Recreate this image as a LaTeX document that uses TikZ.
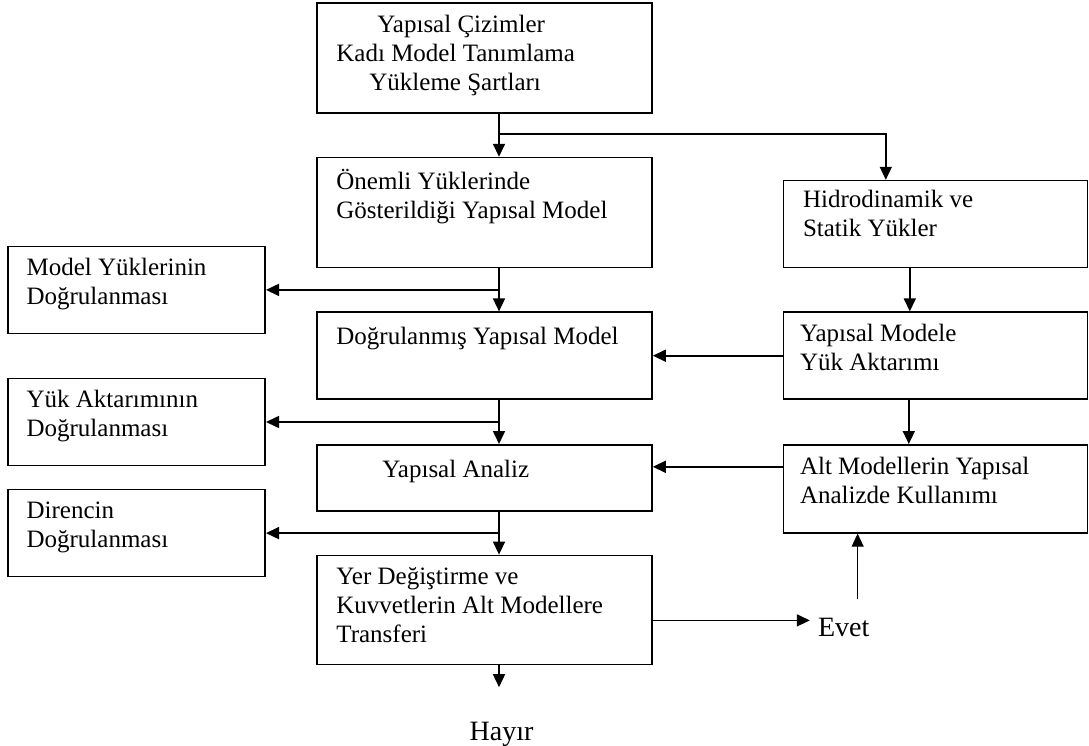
\documentclass[tikz,border=0pt]{standalone}
\usepackage{fontspec}
\setmainfont{Liberation Serif}
\usepackage{tikz}
\usetikzlibrary{positioning}
\usetikzlibrary{calc}
\usetikzlibrary{arrows.meta}

\tikzset{
  block/.style={draw, line width=1.6pt, minimum width=335pt},
  leftblock/.style={draw, line width=1.6pt, minimum width=257pt, minimum height=87pt},
  rightblock/.style={draw, line width=1.6pt, minimum width=304pt},
  boxtext/.style={anchor=north west, align=left, inner sep=0pt, xshift=20pt, yshift=-12.5pt,
    font=\fontsize{25}{29}\selectfont, execute at begin node=\strut},
  answer/.style={inner sep=0pt, font=\fontsize{28}{33}\selectfont},
  flow/.style={line width=1.6pt, -{Triangle[length=13pt,width=12pt]}},
}

\begin{document}
\begin{tikzpicture}

  \useasboundingbox (0,0) rectangle (1089pt,-746pt);

  % Define nodes
  \node[block, minimum height=110pt,
    label={[boxtext]north west:{\hspace*{41pt}Yapısal Çizimler\\Kadı Model Tanımlama\\\hspace*{33pt}Yükleme Şartları}}]
    (plan) at (484.5pt,-58pt) {};
  \node[block, minimum height=110pt, below=43pt of plan,
    label={[boxtext]north west:{Önemli Yüklerinde\\Gösterildiği Yapısal Model}}] (onemli) {};
  \node[block, minimum height=87pt, below=43pt of onemli,
    label={[boxtext]north west:{Doğrulanmış Yapısal Model}}] (dogru) {};
  \node[block, minimum height=66pt, below=44pt of dogru,
    label={[boxtext, xshift=46pt]north west:{Yapısal Analiz}}] (analiz) {};
  \node[block, minimum height=109pt, below=43pt of analiz,
    label={[boxtext]north west:{Yer Değiştirme ve\\Kuvvetlerin Alt Modellere\\Transferi}}] (transfer) {};

  % Junctions on the main line
  \coordinate (j0) at ([xshift=14.5pt,yshift=-20pt]plan.south);
  \coordinate (j1) at ($(onemli.south)!0.5!(dogru.north)+(14.5pt,0)$);
  \coordinate (j2) at ($(dogru.south)!0.5!(analiz.north)+(14.5pt,0)$);
  \coordinate (j3) at ($(analiz.south)!0.5!(transfer.north)+(14.5pt,0)$);

  % Checks on the left
  \node[leftblock, left=233pt of j1,
    label={[boxtext, xshift=-1pt]north west:{Model Yüklerinin\\Doğrulanması}}] (modeldog) {};
  \node[leftblock, left=233pt of j2,
    label={[boxtext, xshift=-1pt]north west:{Yük Aktarımının\\Doğrulanması}}] (yukdog) {};
  \node[leftblock, left=233pt of j3,
    label={[boxtext, xshift=-1pt]north west:{Direncin\\Doğrulanması}}] (dirdog) {};

  % Loads on the right
  \node[rightblock, minimum height=87pt, right=130pt of onemli.south east, anchor=south west,
    label={[boxtext, yshift=2pt]north west:{Hidrodinamik ve\\Statik Yükler}}] (hidro) {};
  \node[rightblock, minimum height=87pt, right=130pt of dogru,
    label={[boxtext, xshift=-3pt]north west:{Yapısal Modele\\Yük Aktarımı}}] (yukaktar) {};
  \node[rightblock, minimum height=88pt, right=130pt of analiz.north east, anchor=north west,
    label={[boxtext, xshift=-3pt]north west:{Alt Modellerin Yapısal\\Analizde Kullanımı}}] (altmodel) {};

  % Answers
  \coordinate (e0) at ([yshift=-10.5pt]transfer.east);
  \node[answer, right=165pt of e0, yshift=-7.5pt] (evet) {Evet};
  \coordinate (u0) at ([xshift=14pt,yshift=19pt]evet.north);
  \coordinate (h0) at ([xshift=14.5pt]transfer.south);
  \coordinate (h1) at ([yshift=-22pt]h0);
  \node[answer, below=57pt of transfer.south, xshift=17pt] (hayir) {Hayır};
  \coordinate (a0) at ([yshift=11pt]analiz.east);

  % Connect nodes
  \draw[flow] ([xshift=14.5pt]plan.south) -- ([xshift=14.5pt]onemli.north);
  \draw[flow] (j0) -| ([xshift=103pt]hidro.north west);
  \draw[flow] ([xshift=14.5pt]onemli.south) -- ([xshift=14.5pt]dogru.north);
  \draw[flow] (j1) -- (modeldog);
  \draw[flow] ([xshift=14.5pt]dogru.south) -- ([xshift=14.5pt]analiz.north);
  \draw[flow] (j2) -- (yukdog);
  \draw[flow] ([xshift=14.5pt]analiz.south) -- ([xshift=14.5pt]transfer.north);
  \draw[flow] (j3) -- (dirdog);
  \draw[flow] ([xshift=127pt]hidro.south west) -- ([xshift=127pt]yukaktar.north west);
  \draw[flow] ([xshift=126pt]yukaktar.south west) -- ([xshift=126pt]altmodel.north west);
  \draw[flow] (yukaktar) -- (dogru);
  \draw[flow] (a0 -| altmodel.west) -- (a0);
  \draw[flow, shorten >=8pt] (e0) -- (e0 -| evet.west);
  \draw[flow, line width=1.1pt] (u0) -- (u0 |- altmodel.south);
  \draw[flow] (h0) -- (h1);

\end{tikzpicture}
\end{document}
